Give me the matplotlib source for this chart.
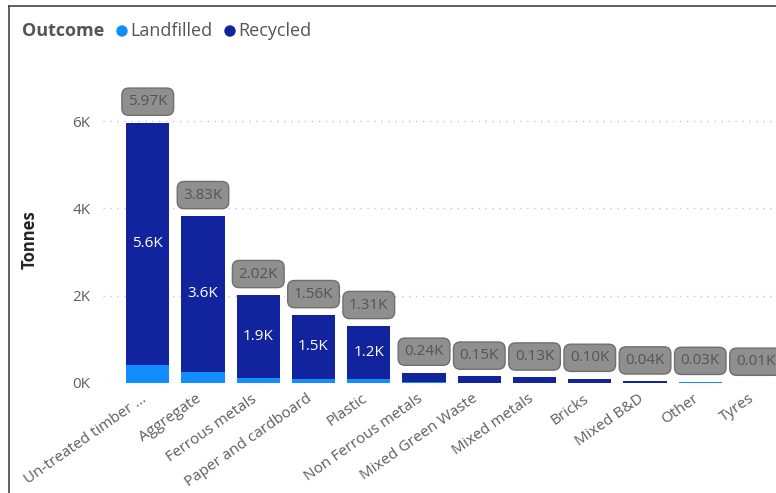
import numpy as np
import matplotlib.pyplot as plt
import matplotlib.transforms as mtransforms
from matplotlib.patches import Ellipse

plt.rcParams['font.family'] = ['Open Sans', 'DejaVu Sans']

# data (thousand tonnes)
categories = ['Un-treated timber ...', 'Aggregate', 'Ferrous metals', 'Paper and cardboard',
              'Plastic', 'Non Ferrous metals', 'Mixed Green Waste', 'Mixed metals',
              'Bricks', 'Mixed B&D', 'Other', 'Tyres']
landfilled = [0.41, 0.25, 0.12, 0.10, 0.09, 0.02, 0.005, 0.0, 0.01, 0.0, 0.03, 0.01]
recycled = [5.56, 3.58, 1.90, 1.46, 1.22, 0.22, 0.145, 0.13, 0.09, 0.04, 0.0, 0.0]
totals = [5.97, 3.83, 2.02, 1.56, 1.31, 0.24, 0.15, 0.13, 0.10, 0.04, 0.03, 0.01]
yticks = [0, 2, 4, 6]

c_land = '#118DFF'
c_rec = '#12239E'
grey = '#605E5C'

W, H = 776, 493
fig = plt.figure(figsize=(W / 100, H / 100), dpi=100)
ax = fig.add_axes([103 / W, 1 - 383 / H, (776 - 103) / W, (383 - 85) / H])

x = np.arange(len(categories))
ax.bar(x, landfilled, width=0.78, color=c_land)
ax.bar(x, recycled, width=0.78, bottom=landfilled, color=c_rec)

ax.set_xlim(-0.81, 11.37)
ax.set_ylim(0, 6.83)

# inner labels for the big bars
for i in range(5):
    ax.text(x[i], landfilled[i] + recycled[i] / 2, '%.1fK' % recycled[i], color='white',
            ha='center', va='center', fontsize=11)

# total labels in grey boxes
for i, t in enumerate(totals):
    ax.annotate('%.2fK' % t, (x[i], t), xytext=(0, 15), textcoords='offset points',
                ha='center', va='center', fontsize=11, color='#555555',
                bbox=dict(boxstyle='round,pad=0.4,rounding_size=0.45', fc='#8f8f8f',
                          ec='#6f6f6f', lw=1))

ax.set_yticks(yticks)
ax.set_yticklabels(['%dK' % v for v in yticks], color=grey, fontsize=11)
ax.set_xticks(x)
ax.set_xticklabels(categories, rotation=35, ha='right', rotation_mode='anchor',
                   color=grey, fontsize=11)
ax.tick_params(length=0, pad=9)
ax.tick_params(axis='x', pad=6)
shift = mtransforms.ScaledTranslation(-7 / 100, 0, fig.dpi_scale_trans)
for lab in ax.get_xticklabels():
    lab.set_transform(lab.get_transform() + shift)
ax.grid(axis='y', linestyle=(0, (1, 4)), color='#c8c8c8', lw=1)
ax.set_axisbelow(True)
for s in ax.spines.values():
    s.set_visible(False)

fig.text(30 / W, 1 - 240 / H, 'Tonnes', rotation=90, ha='center', va='center',
         fontsize=12, fontweight='bold', color='#252423')

# legend
ly = 1 - 31 / H
fig.text(22 / W, ly, 'Outcome', fontsize=13, fontweight='bold', color='#555555', va='center')
fig.text(130 / W, ly, 'Landfilled', fontsize=13, color='#555555', va='center')
fig.text(238 / W, ly, 'Recycled', fontsize=13, color='#555555', va='center')
for cx, col in [(122, c_land), (230, c_rec)]:
    fig.add_artist(Ellipse((cx / W, ly), 10 / W, 10 / H, transform=fig.transFigure, color=col))

# frame
fig.add_artist(plt.Line2D([8.5 / W, 8.5 / W], [0, 1 - 5.5 / H], color='#444444', lw=1.2))
fig.add_artist(plt.Line2D([8.5 / W, 1], [1 - 5.5 / H, 1 - 5.5 / H], color='#444444', lw=1.2))

fig.savefig('out.png', dpi=100)
